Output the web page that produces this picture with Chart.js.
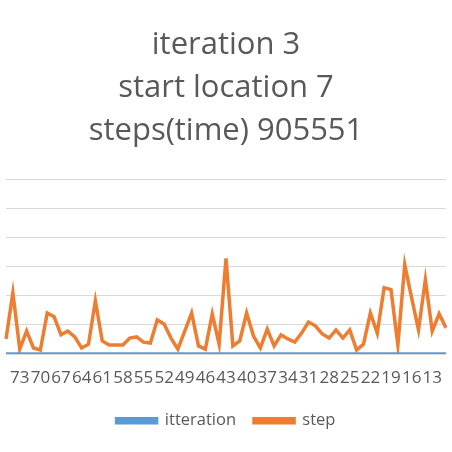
<!DOCTYPE html>
<html><head><meta charset="utf-8">
<script src="https://cdn.jsdelivr.net/npm/chart.js@4"></script>
<style>html,body{margin:0;padding:0;background:#fff}#w{width:452px;height:452px}</style>
</head><body><div id="w"><canvas id="c"></canvas></div>
<script>
const labels = [75,74,73,72,71,70,69,68,67,66,65,64,63,62,61,60,59,58,57,56,55,54,53,52,51,50,49,48,47,46,45,44,43,42,41,40,39,38,37,36,35,34,33,32,31,30,29,28,27,26,25,24,23,22,21,20,19,18,17,16,15,14,13,12,11];
const itteration = [3,3,3,3,3,3,3,3,3,3,3,3,3,3,3,3,3,3,3,3,3,3,3,3,3,3,3,3,3,3,3,3,3,3,3,3,3,3,3,3,3,3,3,3,3,3,3,3,3,3,3,3,3,3,3,3,3,3,3,3,3,3,3,3,3];
const step = [52000,210000,17000,79000,21000,14000,141000,128000,66000,79000,59000,21000,34000,183000,45000,31000,31000,31000,55000,59000,41000,38000,117000,103000,55000,17000,79000,141000,28000,17000,138000,34000,328000,28000,45000,141000,62000,21000,86000,28000,66000,52000,41000,72000,110000,97000,69000,55000,83000,55000,83000,14000,34000,141000,72000,228000,221000,31000,307000,193000,83000,255000,79000,138000,90000];
const titleLines = ['iteration 3','start location 7','steps(time) 905551'];
new Chart(document.getElementById('c'), {
  type:'line',
  data:{labels, datasets:[
    {label:'itteration', data:itteration, borderColor:'#5b9bd5', backgroundColor:'#5b9bd5', borderWidth:3.5, pointRadius:0, tension:0},
    {label:'step', data:step, borderColor:'#ed7d31', backgroundColor:'#ed7d31', borderWidth:3.5, pointRadius:0, tension:0}
  ]},
  options:{
    responsive:true, maintainAspectRatio:false, animation:false,
    layout:{padding:{left:2,right:2,top:0,bottom:13}},
    plugins:{
      title:{display:true, text:titleLines, color:'#595959', font:{family:'Open Sans', size:31, weight:'normal', lineHeight:1.4}, padding:{top:23,bottom:26}},
      legend:{position:'bottom', labels:{color:'#595959', font:{family:'Open Sans', size:16.5}, boxWidth:40, boxHeight:4, padding:18}},
      tooltip:{enabled:false}
    },
    scales:{
      x:{grid:{display:false}, border:{display:false}, offset:false,
         ticks:{autoSkip:false, maxRotation:0, minRotation:0, color:'#595959', font:{family:'Open Sans', size:17}, padding:6,
           callback:function(v,i){const l=labels[i]; return (l%3===1)?String(l):'';}}},
      y:{min:0, max:600000, ticks:{display:false, stepSize:100000}, border:{display:false}, grid:{color:'#d9d9d9', drawTicks:false}}
    }
  }
});
</script></body></html>
